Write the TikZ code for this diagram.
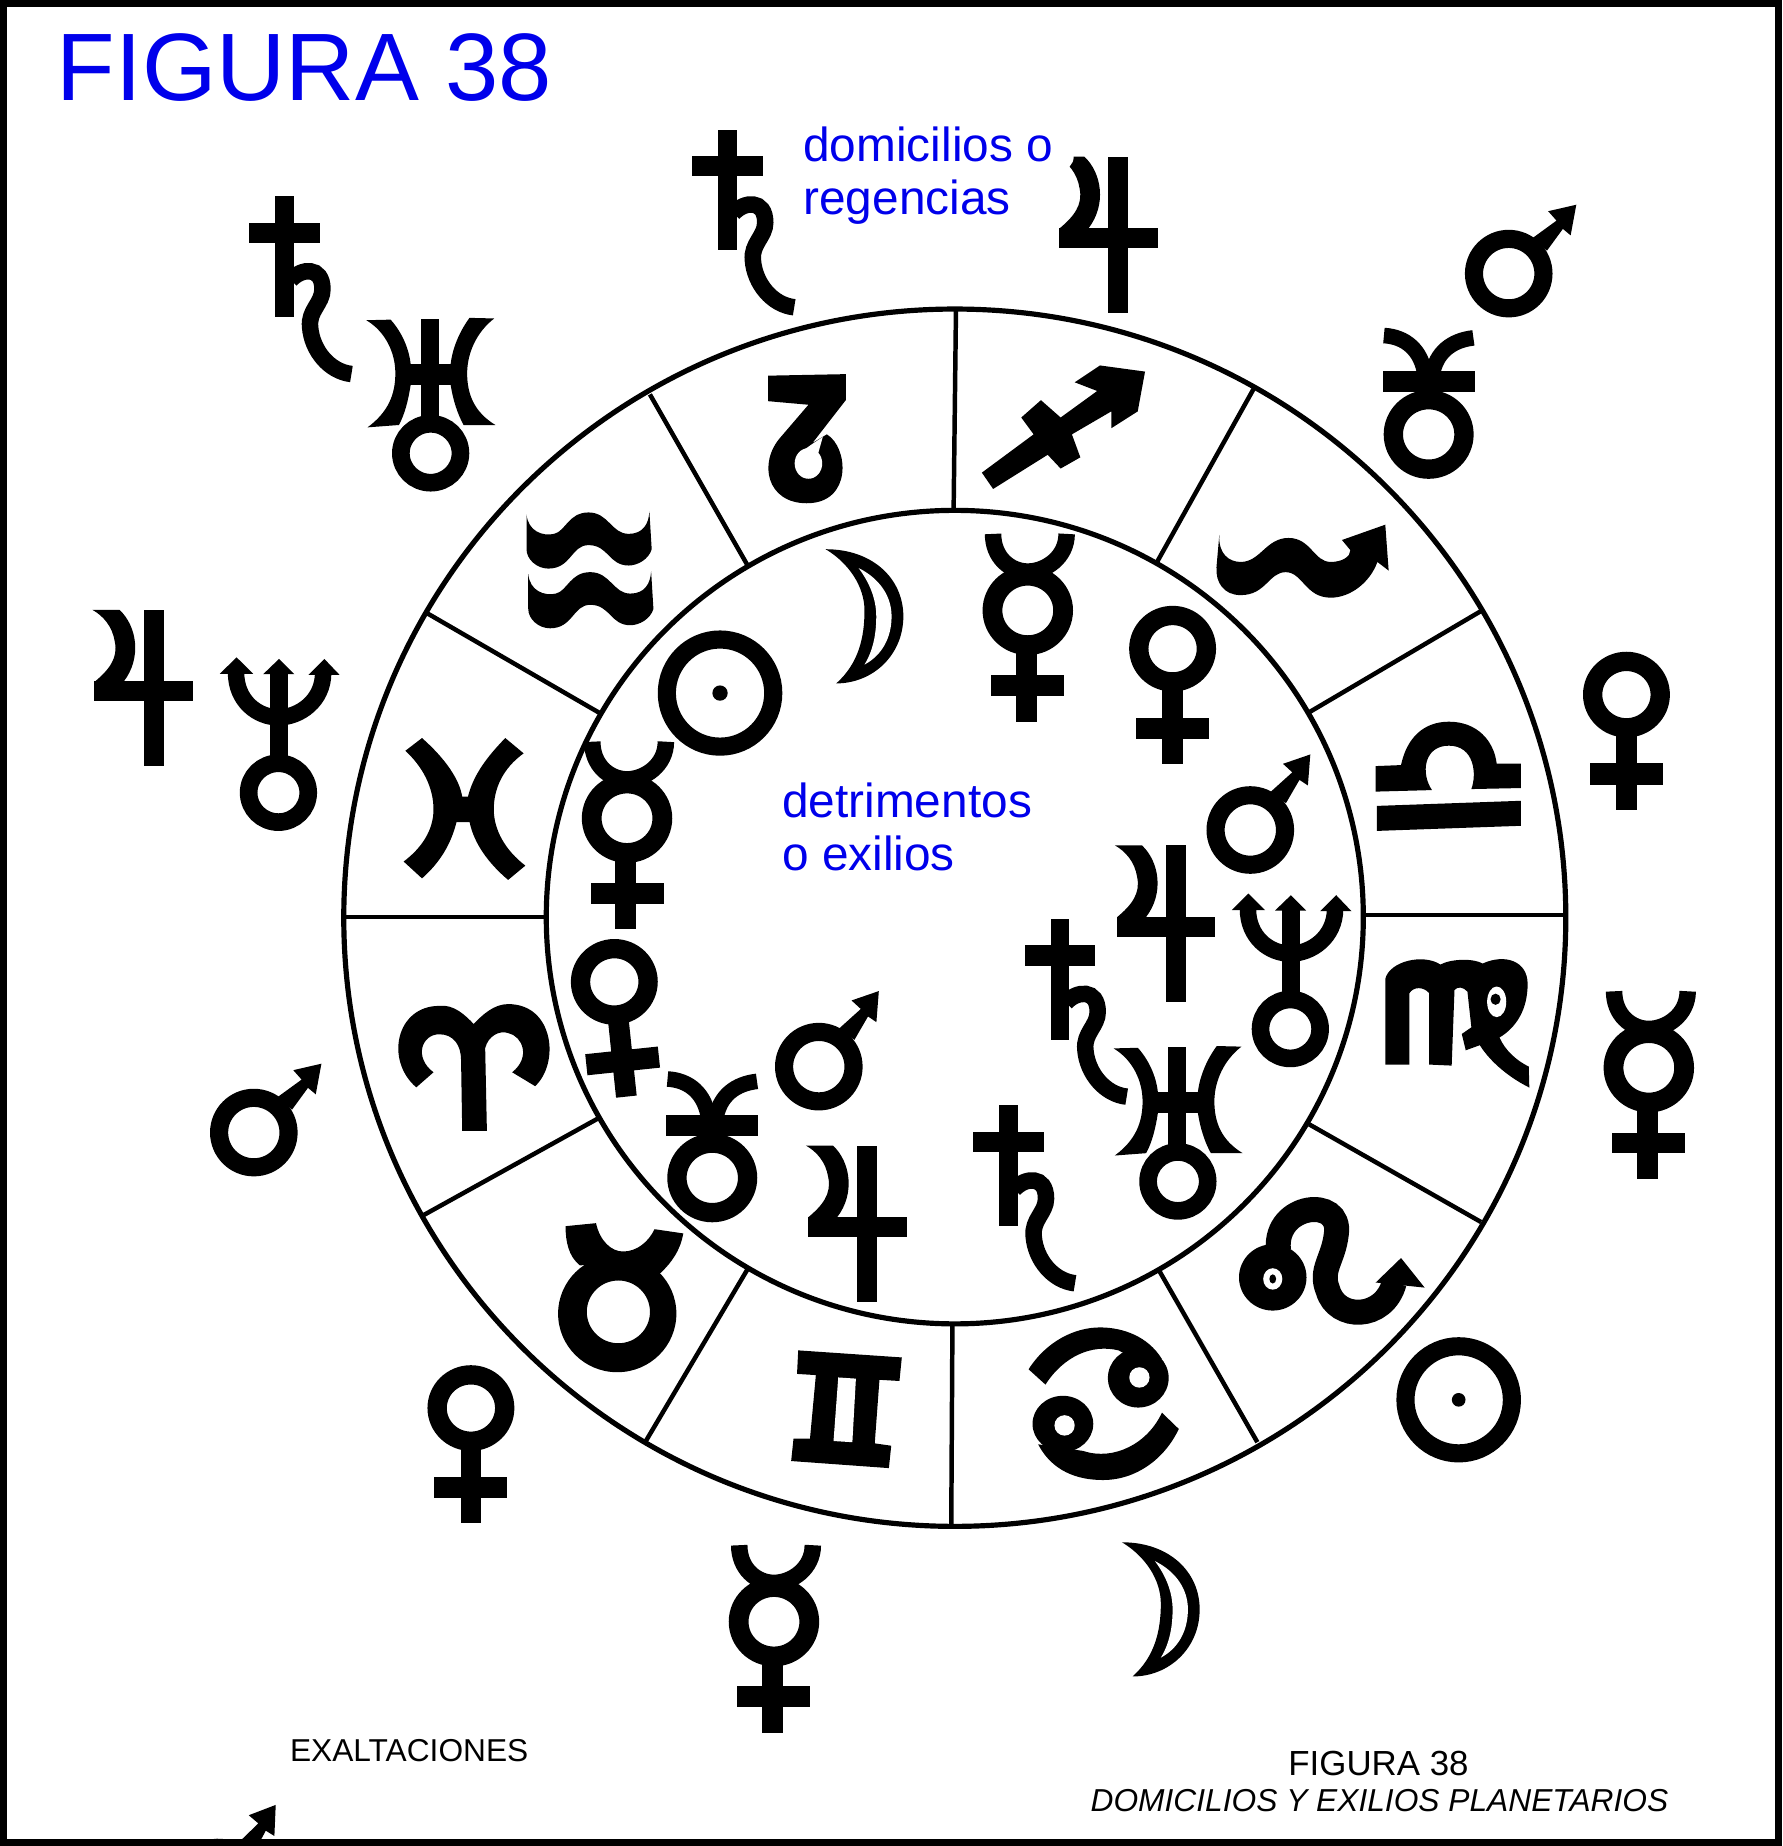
\documentclass[tikz,border=0pt]{standalone}
\usepackage{fontspec}
\setmainfont{Liberation Sans}
\definecolor{figblue}{RGB}{0,0,235}
\tikzset{
  ringline/.style={line width=2.2pt,black},
  spoke/.style={line width=1.9pt,black},
  bluetext/.style={text=figblue,font=\fontsize{20.3}{24}\selectfont,anchor=base west,inner sep=0pt},
  inktext/.style={text=black,anchor=base west,inner sep=0pt},
}
\newcommand\marsG[3][0]{\begin{scope}[shift={(#2,#3)},rotate=#1]
  \draw[line width=7.7pt] (0,0) ellipse [x radius=29.5,y radius=29.5];
  \fill (20,-30)--(40.6,-45)--(33.5,-53)--(57.4,-58.5)--(52.6,-32.5)--(46,-38)--(32.5,-19.5)--cycle;
\end{scope}}
\newcommand\venusG[3][0]{\begin{scope}[shift={(#2,#3)},rotate=#1]
  \draw[line width=8.2pt] (0,0) ellipse [x radius=28.7,y radius=28.2];
  \fill (-8.8,30) rectangle (8.8,98);
  \fill (-31,58.5) rectangle (31,76.5);
\end{scope}}
\newcommand\mercuryG[3][0]{\begin{scope}[shift={(#2,#3)},rotate=#1]
  \draw[line width=8.4pt] (0,0) ellipse [x radius=30,y radius=29.5];
  \draw[line width=7pt] (-29.5,-65) .. controls (-29.5,-45) and (-15,-33) .. (0,-33) .. controls (15,-33) and (33,-45) .. (33,-65);
  \fill (-9.8,30) rectangle (8,94.5);
  \fill (-31,55) rectangle (31,72.7);
\end{scope}}
\newcommand\plutoG[2]{\begin{scope}[shift={(#1,#2)}]
  \draw[line width=8.2pt] (0,0) ellipse [x radius=30,y radius=29.5];
  \fill (-39,-53.5) rectangle (39,-36);
  \draw[line width=6.6pt] (-38,-84) .. controls (-20,-83) and (-6,-72) .. (-3,-50);
  \draw[line width=6.6pt] (38,-82) .. controls (20,-80) and (6,-70) .. (3,-50);
\end{scope}}
\newcommand\uranusG[2]{\begin{scope}[shift={(#1,#2)}]
  \draw[line width=7.5pt] (0,0) ellipse [x radius=25.3,y radius=25];
  \fill (-8,-114) rectangle (7,-23);
  \fill (-20,-76) rectangle (20,-58);
  \fill (-54.6,-113)--(-34,-113.5) .. controls (-22,-100) and (-18,-85) .. (-17,-76)--(-17,-58) .. controls (-19,-45) and (-22,-33) .. (-27,-24)--(-53.6,-22) .. controls (-36,-35) and (-30,-50) .. (-30,-68) .. controls (-30,-85) and (-38,-103) .. cycle;
  \fill (54,-114.5)--(33,-115) .. controls (22,-100) and (18,-85) .. (17,-76)--(17,-58) .. controls (19,-45) and (23,-33) .. (28,-24)--(55,-24) .. controls (37,-35) and (31,-50) .. (31,-68) .. controls (31,-85) and (39,-103) .. cycle;
\end{scope}}
\newcommand\neptuneG[2]{\begin{scope}[shift={(#1,#2)}]
  \draw[line width=7.5pt] (0,0) ellipse [x radius=25.3,y radius=25];
  \fill (-7.5,-102) rectangle (8,-25);
  \draw[line width=7pt] (-36,-102) .. controls (-36,-78) and (-18,-64) .. (0,-64) .. controls (18,-64) and (38,-78) .. (38,-102);
  \fill (0.5,-113.6)--(13.5,-100.6)--(-13,-100.6)--cycle;
  \fill (-35.6,-115)--(-21.5,-101)--(-49.7,-101)--cycle;
  \fill (39,-113.6)--(52,-100)--(25.4,-100)--cycle;
\end{scope}}
\newcommand\jupiterG[2]{\begin{scope}[shift={(#1,#2)}]
  \fill (-8.5,-69) rectangle (8.5,64);
  \fill (-50.5,-8.5) rectangle (33.5,8.5);
  \fill (-52,-69)--(-29,-69) .. controls (-14,-55) and (-10,-28) .. (-25.5,-8)--(-50,-8) .. controls (-38,-18) and (-30,-28) .. (-33,-42) .. controls (-35,-55) and (-43,-64) .. cycle;
\end{scope}}
\newcommand\saturnG[2]{\begin{scope}[shift={(#1,#2)}]
  \fill (-8,-31) rectangle (8,71.5);
  \fill (-30,-8.7) rectangle (30,8.7);
  \draw[line width=7pt] (5,40) .. controls (14,30) and (32,28) .. (32,48) .. controls (32,60) and (20,66) .. (21.5,80) .. controls (23,100) and (38,118) .. (56.6,120);
\end{scope}}
\newcommand\sunG[3]{\begin{scope}[shift={(#1,#2)}]
  \draw[line width=7.7pt] (0,0) ellipse [x radius=45.2,y radius=45.5];
  \fill (0,0) circle [radius=#3];
\end{scope}}
\newcommand\moonG[2]{\begin{scope}[shift={(#1,#2)}]
  \fill (0,0) .. controls (40,0) and (66,25) .. (66,57) .. controls (66,90) and (40,114) .. (9,114) .. controls (28,97) and (33,75) .. (33,52) .. controls (33,32) and (20,12) .. cycle;
  \fill[white] (28,16) .. controls (46,25) and (56,40) .. (56,57) .. controls (56,75) and (48,90) .. (33,98) .. controls (41,85) and (43,70) .. (43,57) .. controls (43,42) and (37,28) .. cycle;
\end{scope}}
\newcommand\aquaWave{\fill (917,812) .. controls (920,845) and (945,855) .. (965,850) .. controls (985,845) and (990,808) .. (1025,808) .. controls (1060,808) and (1065,850) .. (1095,850) .. controls (1120,850) and (1130,830) .. (1131,806)--(1135,880) .. controls (1130,900) and (1110,912) .. (1095,912) .. controls (1060,912) and (1060,872) .. (1025,872) .. controls (995,872) and (995,918) .. (955,918) .. controls (935,918) and (917,900) .. (917,880)--cycle;}
\begin{document}
\begin{tikzpicture}[x=0.5pt,y=-0.5pt]
\useasboundingbox (0,0) rectangle (1514,1568);
\fill[white] (0,0) rectangle (1514,1568);

% wheel
\draw[ringline] (811,779.5) ellipse [x radius=519,y radius=517];
\draw[ringline] (811,779) ellipse [x radius=347,y radius=345.5];
\draw[spoke] (812,263)--(810,433);
\draw[spoke] (1065,330)--(983,477);
\draw[spoke] (1258,519)--(1112,605);
\draw[spoke] (1158,777)--(1330,777);
\draw[spoke] (1258,1038)--(1112,955);
\draw[spoke] (1068,1225)--(985,1080);
\draw[spoke] (808,1295)--(809,1124);
\draw[spoke] (548,1225)--(635,1078);
\draw[spoke] (360,1032)--(508,950);
\draw[spoke] (292,779)--(463,779);
\draw[spoke] (363,521)--(510,606);
\draw[spoke] (552,335)--(636,482);

% zodiac, drawn in the coordinates of the crops
\begin{scope}[shift={(0,85)},xscale=.4877,yscale=.4335]
  % capricorn
  \fill (1338,540)--(1473,537)--(1473,588)--(1415,672)--(1440,655) .. controls (1478,680) and (1485,790) .. (1405,790) .. controls (1335,790) and (1320,710) .. (1360,660)--(1408,597)--(1338,590)--cycle;
  \fill[white] (1408,712) ellipse [x radius=24,y radius=30];
  \fill[white] (1392,692)--(1425,692)--(1433,660)--(1417,672)--cycle;
  % aquarius
  \aquaWave
  \begin{scope}[shift={(3,117)}]\aquaWave\end{scope}
  % pisces
  \fill (706,1275)--(735,1250) .. controls (775,1290) and (800,1330) .. (805,1365)--(815,1365) .. controls (825,1320) and (850,1285) .. (880,1250)--(912,1280) .. controls (875,1310) and (860,1350) .. (860,1390) .. controls (860,1430) and (880,1470) .. (915,1500)--(885,1528) .. controls (850,1495) and (825,1455) .. (818,1415)--(795,1415) .. controls (785,1460) and (765,1495) .. (735,1525)--(703,1492) .. controls (735,1465) and (755,1430) .. (755,1390) .. controls (755,1345) and (735,1305) .. cycle;
\end{scope}

\begin{scope}[shift={(764.7,85)},xscale=.4779,yscale=.4335]
  % sagittarius
  \fill (435,532)--(355,520)--(310,553)--(350,570)--(285,622)--(250,588)--(215,622)--(237,655)--(145,730)--(165,762)--(262,695)--(285,722)--(320,700)--(305,655)--(375,610)--(375,643)--(422,610)--cycle;
  % scorpio
  \fill (567,852) .. controls (565,890) and (585,905) .. (605,905) .. controls (640,905) and (650,858) .. (690,858) .. controls (730,858) and (735,905) .. (765,905) .. controls (785,905) and (800,895) .. (800,882)--(785,862)--(862,832)--(868,922)--(848,905) .. controls (835,945) and (800,975) .. (765,975) .. controls (720,975) and (715,925) .. (685,925) .. controls (655,925) and (650,970) .. (605,970) .. controls (575,970) and (560,945) .. (562,915)--cycle;
  % libra
  \fill (847,1383)--(1103,1373)--(1103,1422)--(847,1432)--cycle;
  \fill (845,1305)--(890,1303) .. controls (900,1250) and (930,1218) .. (975,1218) .. controls (1025,1218) and (1055,1255) .. (1060,1300)--(1103,1300)--(1103,1348)--(1015,1350) .. controls (1025,1320) and (1020,1265) .. (975,1265) .. controls (930,1265) and (925,1320) .. (945,1352)--(845,1355)--cycle;
\end{scope}

\begin{scope}[shift={(764.7,679.7)},xscale=.4779,yscale=.4335]
  % virgo
  \fill (862,518)--(862,350) .. controls (870,315) and (930,300) .. (960,322) .. controls (980,310) and (1020,310) .. (1035,320) .. controls (1075,300) and (1115,315) .. (1115,360) .. controls (1115,410) and (1095,445) .. (1065,465) .. controls (1075,490) and (1095,510) .. (1117,522)--(1118,563) .. controls (1085,545) and (1050,515) .. (1030,480)--(1005,490)--(998,458)--(1015,445)--(1008,375) .. controls (1000,365) and (990,365) .. (985,372)--(980,520)--(940,518)--(940,378) .. controls (930,365) and (912,365) .. (905,378)--(905,518)--cycle;
  \fill[white] (1060,395) ellipse [x radius=17,y radius=30];
  \fill (1058,390) ellipse [x radius=9,y radius=11];
  % leo
  \draw[line width=10.6pt] (672,880) .. controls (665,790) and (785,775) .. (775,850) .. controls (770,900) and (745,920) .. (760,960) .. controls (775,1020) and (860,1020) .. (878,945);
  \fill (890,897)--(932,955)--(845,945)--cycle;
  \fill (662,935) ellipse [x radius=60,y radius=65];
  \fill[white] (662,938) ellipse [x radius=17,y radius=21];
  \fill (662,938) ellipse [x radius=6,y radius=9];
  % cancer
  \fill (423,1132) ellipse [x radius=54,y radius=58];
  \fill (228,1115) .. controls (260,1060) and (310,1033) .. (355,1033) .. controls (395,1033) and (440,1050) .. (465,1095)--(400,1085)--(388,1078) .. controls (340,1065) and (290,1090) .. (258,1145)--cycle;
  \fill[white] (425,1131) ellipse [x radius=18,y radius=20];
  \fill (289,1222) ellipse [x radius=54,y radius=55];
  \fill (465,1200)--(495,1232) .. controls (470,1290) and (420,1332) .. (360,1332) .. controls (315,1332) and (270,1315) .. (245,1262)--(325,1275) .. controls (380,1295) and (440,1260) .. (465,1200)--cycle;
  \fill[white] (292,1225) ellipse [x radius=18,y radius=20];
\end{scope}

\begin{scope}[shift={(0,764.7)},xscale=.4877,yscale=.5126]
  % aries
  \fill (805,382)--(848,382)--(845,245) .. controls (850,225) and (870,215) .. (885,220) .. controls (910,225) and (925,260) .. (892,285)--(932,308) .. controls (975,270) and (965,172) .. (885,172) .. controls (860,172) and (840,190) .. (825,205) .. controls (810,190) and (790,172) .. (765,175) .. controls (690,175) and (670,265) .. (725,310)--(755,285) .. controls (720,260) and (735,222) .. (765,222) .. controls (790,222) and (803,240) .. (803,265)--cycle;
  % taurus
  \fill[even odd rule] (1075,685) ellipse [x radius=103,y radius=97] (1077,682) ellipse [x radius=55,y radius=52];
  \fill (985,540)--(1038,535) .. controls (1045,565) and (1065,582) .. (1085,582) .. controls (1110,582) and (1130,565) .. (1140,545)--(1190,552) .. controls (1185,580) and (1170,600) .. (1150,618)--(1075,600)--(1010,605) .. controls (990,590) and (985,565) .. cycle;
\end{scope}

% gemini
\fill (678,1147)--(766,1153)--(764,1173)--(747,1172)--(743,1226)--(757,1228)--(755,1247)--(672,1241)--(674,1222)--(688,1222)--(693,1168)--(677,1167)--cycle;
\fill[white] (712,1170)--(727,1171)--(724,1225)--(708,1224)--cycle;

% planets outside the wheel and inside it
\saturnG{241.9}{197.7}
\uranusG{365.8}{385}
\saturnG{618}{141}
\jupiterG{950}{202}
\marsG{1281.5}{232.4}
\plutoG{1213.5}{369}
\jupiterG{130.5}{587}
\neptuneG{236.5}{673.3}
\venusG{1381.5}{590}
\mercuryG{1400.5}{907}
\marsG{215.6}{962}
\sunG{1239}{1189}{5.8}
\venusG{400}{1196}
\mercuryG{657.4}{1377.5}
\moonG{953}{1310}
\moonG{701.3}{466.5}
\sunG{611.6}{588.7}{6.5}
\mercuryG{873}{518.5}
\venusG{996}{551}
\marsG[6]{1062}{705}
\mercuryG{532.6}{695}
\venusG[6]{521.8}{834}
\jupiterG{998.9}{787}
\neptuneG{1096}{874}
\saturnG{900.4}{811.5}
\uranusG{1000.5}{1003.5}
\saturnG{856.5}{970}
\jupiterG{736.5}{1042}
\marsG[6]{695.5}{906}
\plutoG{605}{1000.5}
\begin{scope}
  \clip (0,0) rectangle (1514,1568);
  \marsG[8]{185.5}{1599}
\end{scope}

% erased corner of the upper Jupiter
\fill[white] (900,133) ellipse [x radius=12,y radius=12];

% frame
\draw[line width=3pt,black] (3,3) rectangle (1511,1565);

% texts
\node[inktext,text=figblue,font=\fontsize{40.7}{48}\selectfont] (title) at (48,85) {FIGURA 38};
\node[bluetext] (dom1) at (682,137) {domicilios o};
\node[bluetext] (dom2) at (682,182) {regencias};
\node[bluetext] (det1) at (664,694) {detrimentos};
\node[bluetext] (det2) at (664,739) {o exilios};
\node[inktext,font=\fontsize{13.45}{16}\selectfont] (exal) at (246,1496) {EXALTACIONES};
\node[inktext,font=\fontsize{14.8}{18}\selectfont] (cap1) at (1094,1508) {FIGURA 38};
\node[inktext,font=\itshape\fontsize{13.47}{16}\selectfont] (cap2) at (926,1539) {DOMICILIOS Y EXILIOS PLANETARIOS};
\end{tikzpicture}
\end{document}
